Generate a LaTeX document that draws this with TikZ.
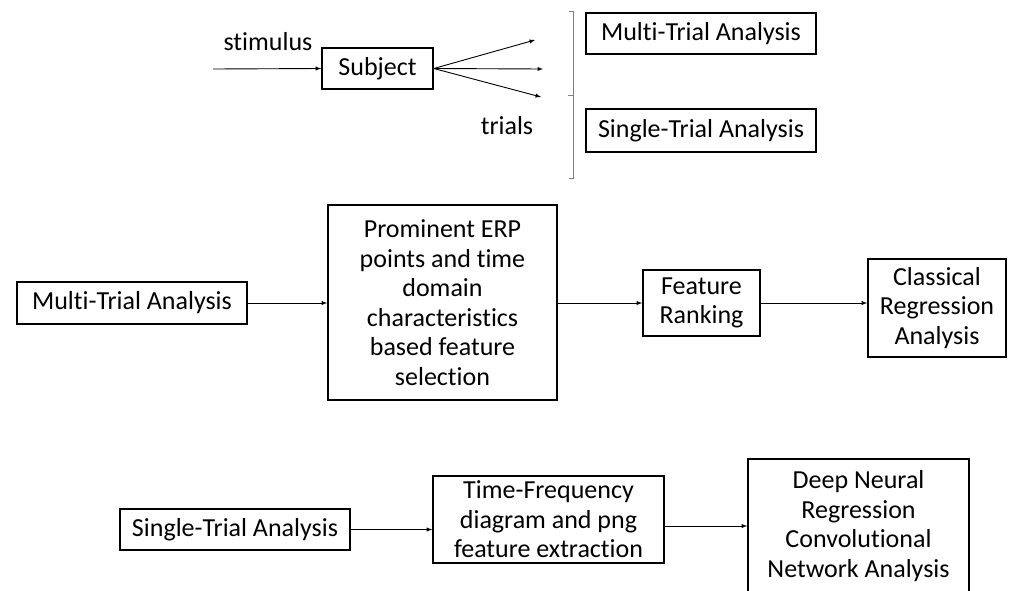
\documentclass[tikz,border=0pt]{standalone}
\usepackage{fontspec}
\setmainfont{Carlito}[Ligatures=NoCommon]
\usepackage{tikz}
\usetikzlibrary{arrows}
\usetikzlibrary{calc}

\begin{document}
\begin{tikzpicture}[
    x=1pt, y=-1pt,
    every node/.style={color=black, font=\fontsize{26}{29.5}\selectfont},
    box/.style={draw, line width=1.6pt, align=center, inner sep=0pt},
    flow/.style={-latex, line width=0.9pt},
    brace line/.style={thin, color=gray}
    ]
   \useasboundingbox (0,0) rectangle (1016,590);
   % top: subject and trials
   \coordinate (in) at (213,69);
   \coordinate (t1) at (535,40);
   \coordinate (t2) at (543,69);
   \coordinate (t3) at (541,97);
   \node (stim) at (268,42) {stimulus};
   \node[box, minimum width=111pt, minimum height=41pt] (subj) at (377.5,68.5) {Subject};
   \node (trials) at (507,126) {trials};
   \draw[flow] (in) -- (subj.west);
   \draw[flow] (subj.east) -- (t1);
   \draw[flow] (subj.east) -- (t2);
   \draw[flow] (subj.east) -- (t3);
   % brace
   \draw[brace line] (569,11) -- (573,11) -- (573,178) -- (569,178);
   \draw[brace line] (573,95) -- (568,95);
   \node[box, minimum width=230pt, minimum height=41pt] (mta1) at (701,33.5) {Multi-Trial Analysis};
   \node[box, minimum width=230pt, minimum height=43pt] (sta1) at (701,130.5) {Single-Trial Analysis};
   % multi-trial chain
   \node[box, minimum width=230pt, minimum height=42pt] (mta2) at (132,303) {Multi-Trial Analysis};
   \node[box, minimum width=229pt, minimum height=195pt] (prom) at (442.5,302.5)
      {Prominent ERP\\points and time\\domain\\characteristics\\based feature\\selection};
   \node[box, minimum width=117pt, minimum height=66pt] (rank) at (701.5,303) {Feature\\Ranking};
   \node[box, minimum width=138pt, minimum height=98pt] (creg) at (937,308) {Classical\\Regression\\Analysis};
   \draw[flow] (mta2.east) -- (mta2.east -| prom.west);
   \draw[flow] (rank.west -| prom.east) -- (rank.west);
   \draw[flow] (rank.east) -- (rank.east -| creg.west);
   % single-trial chain
   \node[box, minimum width=230pt, minimum height=41pt] (sta2) at (235,529.5) {Single-Trial Analysis};
   \node[box, minimum width=231pt, minimum height=87pt] (tfd) at (548.5,519.5)
      {Time-Frequency\\diagram and png\\feature extraction};
   \node[box, minimum width=221pt, minimum height=134pt] (dnn) at (858.5,526)
      {Deep Neural\\Regression\\Convolutional\\Network Analysis};
   \draw[flow] (sta2.east) -- (sta2.east -| tfd.west);
   \draw[flow] (dnn.west -| tfd.east) -- (dnn.west);
\end{tikzpicture}
\end{document}
